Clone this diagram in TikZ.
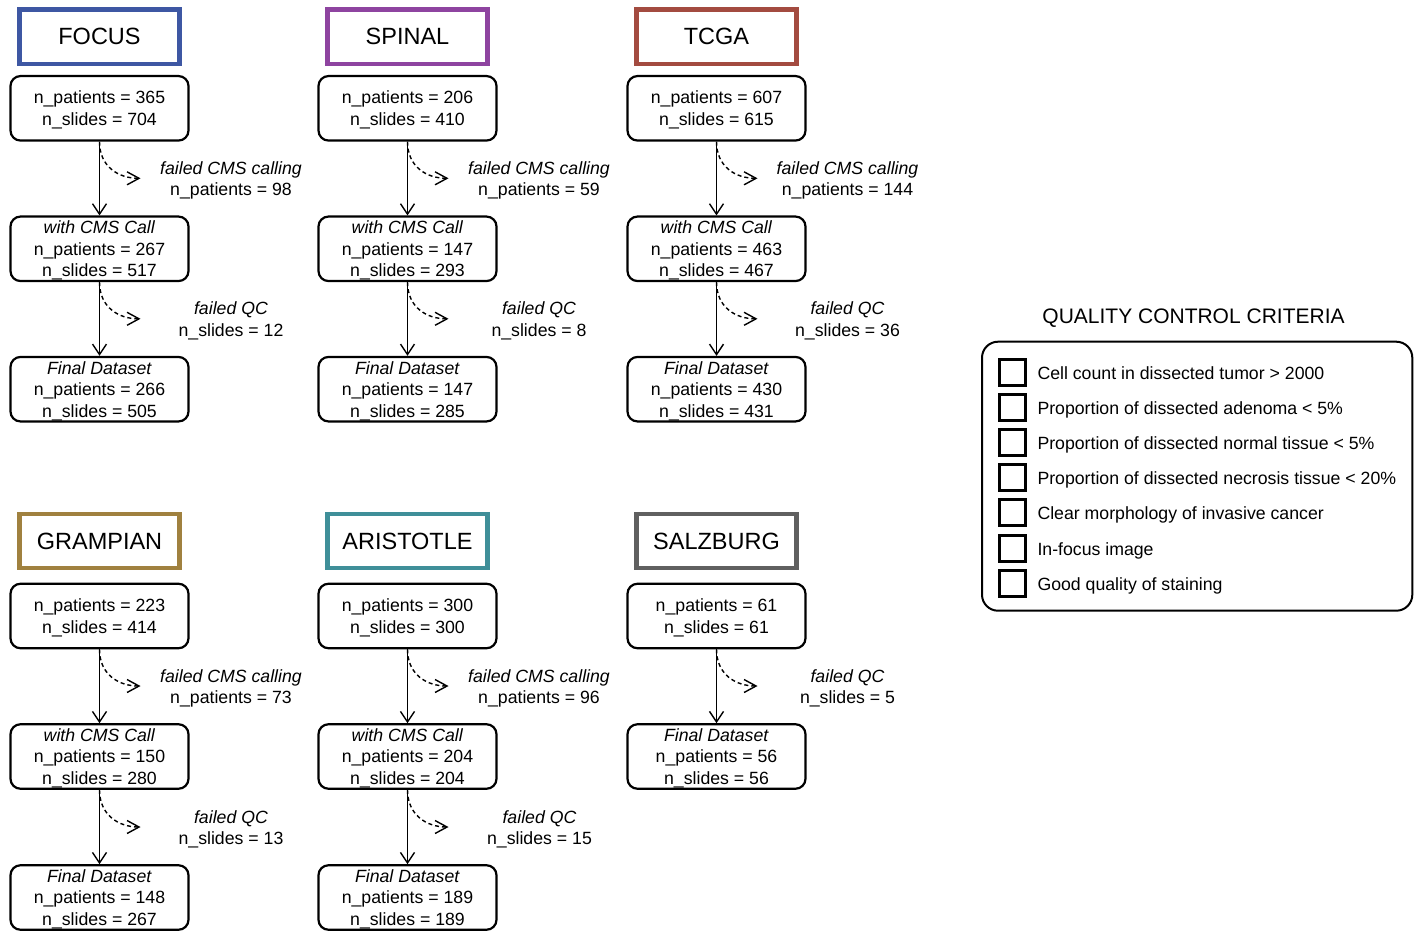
\documentclass[tikz,border=0pt]{standalone}
\usepackage{fontspec}
\setmainfont{Liberation Sans}
\usepackage{tikz}
\usetikzlibrary{arrows.meta}
\definecolor{focusblue}{HTML}{3E57A3}
\definecolor{spinalpurple}{HTML}{8E44A0}
\definecolor{tcgared}{HTML}{A34B40}
\definecolor{grampiangold}{HTML}{A0813F}
\definecolor{aristotleteal}{HTML}{3F8F99}
\definecolor{salzburggrey}{HTML}{606060}

\begin{document}
\begin{tikzpicture}[x=1pt, y=-1pt,
    font=\fontsize{17.7}{21.5}\selectfont,
    cohort/.style={draw=#1, line width=4.3pt, minimum width=160pt, minimum height=54.5pt, font=\fontsize{23.5}{27}\selectfont},
    stage/.style={draw, rounded corners=10pt, line width=2.2pt, minimum width=178pt, minimum height=64.5pt, align=center, inner sep=1pt, text depth=0pt},
    dropout/.style={align=center, inner sep=0pt},
    flow/.style={line width=1.4pt, -{Straight Barb[length=10.5pt,width=14pt]}},
    drop/.style={line width=1.4pt, dash pattern=on 4pt off 3pt, -{Straight Barb[length=12pt,width=13pt]}},
    tickbox/.style={draw, line width=3pt, minimum size=26pt, inner sep=0pt},
    criterion/.style={anchor=base west, inner sep=0pt}]
      \useasboundingbox (0,0) rectangle (1423,930);

      % FOCUS
      \node[cohort=focusblue] (focus) at (99.5,36.7) {FOCUS};
      \node[stage] (focusAll) at (99.5,108.3) {n\_patients = 365\\n\_slides = 704};
      \node[stage] (focusCms) at (99.5,248.8) {\textit{with CMS Call}\\n\_patients = 267\\n\_slides = 517};
      \node[stage] (focusFinal) at (99.5,389.2) {\textit{Final Dataset}\\n\_patients = 266\\n\_slides = 505};
      \coordinate (focusDropCms) at (140.5,178.3);
      \coordinate (focusDropQc) at (140.5,318.8);
      \node[dropout] (focusLossCms) at (231,180.5) {\textit{failed CMS calling}\\n\_patients = 98};
      \node[dropout] (focusLossQc) at (231,321) {\textit{failed QC}\\n\_slides = 12};
      \draw[flow] (focusAll) -- (focusCms);
      \draw[flow] (focusCms) -- (focusFinal);
      \draw[drop] (focusAll.south) .. controls +(0,25) and +(-22,0) .. (focusDropCms);
      \draw[drop] (focusCms.south) .. controls +(0,25) and +(-22,0) .. (focusDropQc);

      % SPINAL
      \node[cohort=spinalpurple] (spinal) at (407.5,36.7) {SPINAL};
      \node[stage] (spinalAll) at (407.5,108.3) {n\_patients = 206\\n\_slides = 410};
      \node[stage] (spinalCms) at (407.5,248.8) {\textit{with CMS Call}\\n\_patients = 147\\n\_slides = 293};
      \node[stage] (spinalFinal) at (407.5,389.2) {\textit{Final Dataset}\\n\_patients = 147\\n\_slides = 285};
      \coordinate (spinalDropCms) at (448.5,178.3);
      \coordinate (spinalDropQc) at (448.5,318.8);
      \node[dropout] (spinalLossCms) at (539,180.5) {\textit{failed CMS calling}\\n\_patients = 59};
      \node[dropout] (spinalLossQc) at (539,321) {\textit{failed QC}\\n\_slides = 8};
      \draw[flow] (spinalAll) -- (spinalCms);
      \draw[flow] (spinalCms) -- (spinalFinal);
      \draw[drop] (spinalAll.south) .. controls +(0,25) and +(-22,0) .. (spinalDropCms);
      \draw[drop] (spinalCms.south) .. controls +(0,25) and +(-22,0) .. (spinalDropQc);

      % TCGA
      \node[cohort=tcgared] (tcga) at (716.5,36.7) {TCGA};
      \node[stage] (tcgaAll) at (716.5,108.3) {n\_patients = 607\\n\_slides = 615};
      \node[stage] (tcgaCms) at (716.5,248.8) {\textit{with CMS Call}\\n\_patients = 463\\n\_slides = 467};
      \node[stage] (tcgaFinal) at (716.5,389.2) {\textit{Final Dataset}\\n\_patients = 430\\n\_slides = 431};
      \coordinate (tcgaDropCms) at (757.5,178.3);
      \coordinate (tcgaDropQc) at (757.5,318.8);
      \node[dropout] (tcgaLossCms) at (847.5,180.5) {\textit{failed CMS calling}\\n\_patients = 144};
      \node[dropout] (tcgaLossQc) at (847.5,321) {\textit{failed QC}\\n\_slides = 36};
      \draw[flow] (tcgaAll) -- (tcgaCms);
      \draw[flow] (tcgaCms) -- (tcgaFinal);
      \draw[drop] (tcgaAll.south) .. controls +(0,25) and +(-22,0) .. (tcgaDropCms);
      \draw[drop] (tcgaCms.south) .. controls +(0,25) and +(-22,0) .. (tcgaDropQc);

      % GRAMPIAN
      \node[cohort=grampiangold] (grampian) at (99.5,541) {GRAMPIAN};
      \node[stage] (grampianAll) at (99.5,616) {n\_patients = 223\\n\_slides = 414};
      \node[stage] (grampianCms) at (99.5,756.5) {\textit{with CMS Call}\\n\_patients = 150\\n\_slides = 280};
      \node[stage] (grampianFinal) at (99.5,897.5) {\textit{Final Dataset}\\n\_patients = 148\\n\_slides = 267};
      \coordinate (grampianDropCms) at (140.5,686);
      \coordinate (grampianDropQc) at (140.5,827);
      \node[dropout] (grampianLossCms) at (231,688.5) {\textit{failed CMS calling}\\n\_patients = 73};
      \node[dropout] (grampianLossQc) at (231,829.5) {\textit{failed QC}\\n\_slides = 13};
      \draw[flow] (grampianAll) -- (grampianCms);
      \draw[flow] (grampianCms) -- (grampianFinal);
      \draw[drop] (grampianAll.south) .. controls +(0,25) and +(-22,0) .. (grampianDropCms);
      \draw[drop] (grampianCms.south) .. controls +(0,25) and +(-22,0) .. (grampianDropQc);

      % ARISTOTLE
      \node[cohort=aristotleteal] (aristotle) at (407.5,541) {ARISTOTLE};
      \node[stage] (aristotleAll) at (407.5,616) {n\_patients = 300\\n\_slides = 300};
      \node[stage] (aristotleCms) at (407.5,756.5) {\textit{with CMS Call}\\n\_patients = 204\\n\_slides = 204};
      \node[stage] (aristotleFinal) at (407.5,897.5) {\textit{Final Dataset}\\n\_patients = 189\\n\_slides = 189};
      \coordinate (aristotleDropCms) at (448.5,686);
      \coordinate (aristotleDropQc) at (448.5,827);
      \node[dropout] (aristotleLossCms) at (539,688.5) {\textit{failed CMS calling}\\n\_patients = 96};
      \node[dropout] (aristotleLossQc) at (539.5,829.5) {\textit{failed QC}\\n\_slides = 15};
      \draw[flow] (aristotleAll) -- (aristotleCms);
      \draw[flow] (aristotleCms) -- (aristotleFinal);
      \draw[drop] (aristotleAll.south) .. controls +(0,25) and +(-22,0) .. (aristotleDropCms);
      \draw[drop] (aristotleCms.south) .. controls +(0,25) and +(-22,0) .. (aristotleDropQc);

      % SALZBURG
      \node[cohort=salzburggrey] (salzburg) at (716.5,541) {SALZBURG};
      \node[stage] (salzburgAll) at (716.5,616) {n\_patients = 61\\n\_slides = 61};
      \node[stage] (salzburgFinal) at (716.5,756.5) {\textit{Final Dataset}\\n\_patients = 56\\n\_slides = 56};
      \coordinate (salzburgDropQc) at (757.5,686);
      \node[dropout] (salzburgLossQc) at (847.5,688.5) {\textit{failed QC}\\n\_slides = 5};
      \draw[flow] (salzburgAll) -- (salzburgFinal);
      \draw[drop] (salzburgAll.south) .. controls +(0,25) and +(-22,0) .. (salzburgDropQc);

      % quality control criteria
      \node[anchor=base, inner sep=0pt, font=\fontsize{21}{25}\selectfont] (qcTitle) at (1193.5,323.5) {QUALITY CONTROL CRITERIA};
      \draw[rounded corners=16pt, line width=2pt] (982,341.7) rectangle (1412.3,610.7);
      \node[tickbox] (tick1) at (1012.3,372.3) {};
      \node[tickbox] (tick2) at (1012.3,407.45) {};
      \node[tickbox] (tick3) at (1012.3,442.6) {};
      \node[tickbox] (tick4) at (1012.3,477.75) {};
      \node[tickbox] (tick5) at (1012.3,512.9) {};
      \node[tickbox] (tick6) at (1012.3,548.05) {};
      \node[tickbox] (tick7) at (1012.3,583.2) {};
      \node[criterion] (crit1) at (1037.3,379.3) {Cell count in dissected tumor > 2000};
      \node[criterion] (crit2) at (1037.3,414.45) {Proportion of dissected adenoma < 5\%};
      \node[criterion] (crit3) at (1037.3,449.6) {Proportion of dissected normal tissue < 5\%};
      \node[criterion] (crit4) at (1037.3,484.75) {Proportion of dissected necrosis tissue < 20\%};
      \node[criterion] (crit5) at (1037.3,519.9) {Clear morphology of invasive cancer};
      \node[criterion] (crit6) at (1037.3,555.05) {In-focus image};
      \node[criterion] (crit7) at (1037.3,590.2) {Good quality of staining};
    \end{tikzpicture}
\end{document}
